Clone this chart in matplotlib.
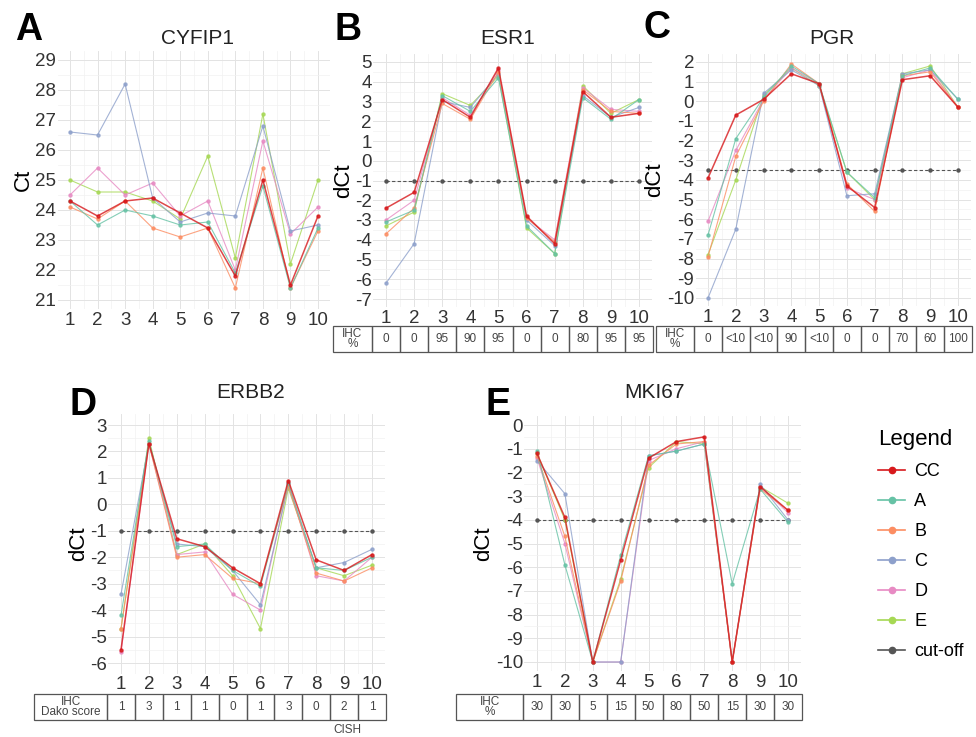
import numpy as np
import matplotlib
matplotlib.use("Agg")
import matplotlib.pyplot as plt
from matplotlib.patches import Rectangle
from matplotlib.lines import Line2D

plt.rcParams['font.family'] = ['Liberation Sans', 'DejaVu Sans']
plt.rcParams['axes.unicode_minus'] = False

# ---- data ----
samples = list(range(1, 11))
series = ['CC', 'A', 'B', 'C', 'D', 'E']
colors = {'CC': '#d7191c', 'A': '#66c2a5', 'B': '#fc8d62', 'C': '#8da0cb',
          'D': '#e78ac3', 'E': '#a6d854', 'cut-off': '#555555'}

cyfip1 = {
    'CC': [24.3, 23.8, 24.3, 24.4, 23.9, 23.4, 21.8, 25.0, 21.5, 23.8],
    'A':  [24.3, 23.5, 24.0, 23.8, 23.5, 23.6, 21.9, 24.8, 21.4, 23.4],
    'B':  [24.1, 23.7, 24.3, 23.4, 23.1, 23.4, 21.4, 25.4, 21.4, 23.3],
    'C':  [26.6, 26.5, 28.2, 24.4, 23.6, 23.9, 23.8, 26.8, 23.3, 23.5],
    'D':  [24.5, 25.4, 24.5, 24.9, 23.8, 24.3, 22.0, 26.3, 23.2, 24.1],
    'E':  [25.0, 24.6, 24.6, 24.3, 23.7, 25.8, 22.4, 27.2, 22.2, 25.0],
}
esr1 = {
    'CC': [-2.4, -1.6, 3.1, 2.2, 4.7, -2.8, -4.2, 3.5, 2.2, 2.4],
    'A':  [-3.1, -2.5, 3.3, 2.5, 4.2, -3.3, -4.7, 3.2, 2.1, 3.1],
    'B':  [-3.7, -2.4, 2.9, 2.1, 4.5, -2.9, -4.1, 3.6, 2.5, 2.4],
    'C':  [-6.2, -4.2, 3.0, 2.7, 4.4, -3.0, -4.3, 3.3, 2.2, 2.7],
    'D':  [-3.0, -2.0, 3.2, 2.3, 4.6, -2.9, -4.0, 3.7, 2.6, 2.5],
    'E':  [-3.3, -2.6, 3.4, 2.8, 4.3, -3.4, -4.7, 3.8, 2.4, 3.1],
}
pgr = {
    'CC': [-3.9, -0.7, 0.1, 1.4, 0.9, -4.3, -5.4, 1.1, 1.3, -0.3],
    'A':  [-6.8, -1.9, 0.2, 1.8, 0.9, -3.6, -4.9, 1.3, 1.7, 0.1],
    'B':  [-7.9, -2.8, 0.0, 1.9, 0.9, -4.2, -5.6, 1.3, 1.5, -0.3],
    'C':  [-10.0, -6.5, 0.4, 1.6, 0.8, -4.8, -4.7, 1.4, 1.6, 0.1],
    'D':  [-6.1, -2.5, 0.1, 1.7, 0.9, -4.4, -5.0, 1.2, 1.6, -0.3],
    'E':  [-7.8, -4.0, 0.3, 1.7, 0.8, -3.6, -5.0, 1.4, 1.8, -0.3],
}
erbb2 = {
    'CC': [-5.5, 2.3, -1.3, -1.6, -2.4, -3.0, 0.9, -2.1, -2.5, -1.9],
    'A':  [-4.2, 2.4, -1.6, -1.5, -2.5, -3.1, 0.8, -2.4, -2.5, -2.0],
    'B':  [-4.7, 2.3, -2.0, -1.9, -2.8, -3.0, 0.7, -2.6, -2.9, -2.4],
    'C':  [-3.4, 2.3, -1.5, -1.6, -2.5, -3.8, 0.7, -2.4, -2.2, -1.7],
    'D':  [-5.6, 2.3, -1.9, -1.8, -3.4, -4.0, 0.8, -2.7, -2.9, -2.0],
    'E':  [-4.7, 2.5, -1.9, -1.5, -2.7, -4.7, 0.6, -2.4, -2.7, -2.3],
}
mki67 = {
    'CC': [-1.2, -3.9, -10.0, -5.7, -1.4, -0.7, -0.5, -10.0, -2.6, -3.6],
    'A':  [-1.1, -5.9, -10.0, -5.5, -1.3, -1.1, -0.8, -6.7, -2.7, -4.1],
    'B':  [-1.3, -4.7, -10.0, -6.6, -1.7, -0.8, -0.7, -10.0, -2.7, -3.6],
    'C':  [-1.5, -2.9, -10.0, -10.0, -1.3, -1.1, -0.8, -10.0, -2.5, -4.0],
    'D':  [-1.4, -5.0, -10.0, -10.0, -1.5, -1.0, -0.7, -10.0, -2.6, -3.7],
    'E':  [-1.2, -4.0, -10.0, -6.5, -1.8, -0.7, -0.8, -10.0, -2.6, -3.3],
}
cutoffs = {'ESR1': -1, 'PGR': -3.5, 'ERBB2': -1, 'MKI67': -4}

ihc_esr1 = ['0', '0', '95', '90', '95', '0', '0', '80', '95', '95']
ihc_pgr = ['0', '<10', '<10', '90', '<10', '0', '0', '70', '60', '100']
ihc_erbb2 = ['1', '3', '1', '1', '0', '1', '3', '0', '2', '1']
ihc_mki67 = ['30', '30', '5', '15', '50', '80', '50', '15', '30', '30']

W, H = 976, 737
fig = plt.figure(figsize=(W / 100, H / 100), dpi=100)


def make_axes(x1px, x10px, ytop, ytop_px, ybot, ybot_px, ypad):
    sx = (x10px - x1px) / 9
    xl, xr = 0.55, 10.45
    left = x1px - (1 - xl) * sx
    right = x10px + (xr - 10) * sx
    sy = (ybot_px - ytop_px) / (ytop - ybot)
    top = ytop_px - ypad * sy
    bottom = ybot_px + ypad * sy
    ax = fig.add_axes([left / W, 1 - bottom / H, (right - left) / W, (bottom - top) / H])
    ax.set_xlim(xl, xr)
    ax.set_ylim(ybot - ypad, ytop + ypad)
    ax.set_xticks(samples)
    ax.set_yticks(np.arange(ybot, ytop + 1))
    ax.set_xticks(np.arange(1.5, 10, 1), minor=True)
    ax.set_yticks(np.arange(ybot + 0.5, ytop, 1), minor=True)
    ax.grid(True, which='major', color='#e3e3e3', lw=0.7)
    ax.grid(True, which='minor', color='#f1f1f1', lw=0.5)
    ax.set_axisbelow(True)
    for s in ax.spines.values():
        s.set_visible(False)
    ax.tick_params(which='both', length=0, labelsize=13.5, labelcolor='#333333')
    ax.tick_params(axis='x', pad=2)
    ax.tick_params(axis='y', pad=1)
    return ax, left, right


def draw_lines(ax, data, cutoff=None):
    if cutoff is not None:
        ax.plot(samples, [cutoff] * 10, ls=(0, (3, 2)), color=colors['cut-off'],
                lw=0.8, marker='o', ms=2.2, zorder=2)
    for name in series[::-1]:
        lw = 1.1 if name == 'CC' else 0.8
        ax.plot(samples, data[name], color=colors[name], lw=lw, marker='o',
                ms=2.2, alpha=0.8, zorder=3)


def draw_table(ax, left, right, label_left_px, top_px, bot_px, label, values):
    tax = fig.add_axes([ax.get_position().x0, 1 - bot_px / H,
                        ax.get_position().width, (bot_px - top_px) / H])
    tax.set_xlim(ax.get_xlim())
    tax.set_ylim(0, 1)
    tax.axis('off')
    sx = (right - left) / (ax.get_xlim()[1] - ax.get_xlim()[0])
    xl = 0.5 - (left + (0.5 - ax.get_xlim()[0]) * sx - label_left_px) / sx
    ec = '#555555'
    tax.add_patch(Rectangle((xl, 0), 0.5 - xl, 1, fill=False, ec=ec, lw=0.9, clip_on=False))
    tax.text((xl + 0.5) / 2, 0.5, label, ha='center', va='center', fontsize=8.5,
             color='#444444', linespacing=0.85)
    for i, v in zip(samples, values):
        tax.add_patch(Rectangle((i - 0.5, 0), 1, 1, fill=False, ec=ec, lw=0.9, clip_on=False))
        tax.text(i, 0.5, v, ha='center', va='center', fontsize=8.5, color='#444444')
    return tax


# A
axA, lA, rA = make_axes(70, 318, 29, 60, 21, 300, 0.3)
draw_lines(axA, cyfip1)
axA.set_ylabel('Ct', fontsize=16, labelpad=1)

# B
axB, lB, rB = make_axes(386, 639, 5, 62, -7, 299, 0.4)
draw_lines(axB, esr1, cutoffs['ESR1'])
axB.set_ylabel('dCt', fontsize=16, labelpad=1)
draw_table(axB, lB, rB, 333, 326, 352, 'IHC\n%', ihc_esr1)

# C
axC, lC, rC = make_axes(708, 958, 2, 62, -10, 298, 0.4)
draw_lines(axC, pgr, cutoffs['PGR'])
axC.set_ylabel('dCt', fontsize=16, labelpad=1)
draw_table(axC, lC, rC, 656, 326, 352, 'IHC\n%', ihc_pgr)

# D
axD, lD, rD = make_axes(121, 372, 3, 425, -6, 663, 0.4)
draw_lines(axD, erbb2, cutoffs['ERBB2'])
axD.set_ylabel('dCt', fontsize=16, labelpad=1)
draw_table(axD, lD, rD, 34, 694, 720, 'IHC\nDako score', ihc_erbb2)
fig.text(347 / W, 1 - 730 / H, 'CISH', fontsize=8.5, color='#444444', ha='center', va='center')

# E
axE, lE, rE = make_axes(537, 788, 0, 425, -10, 662, 0.4)
draw_lines(axE, mki67, cutoffs['MKI67'])
axE.set_ylabel('dCt', fontsize=16, labelpad=1)
draw_table(axE, lE, rE, 456, 694, 720, 'IHC\n%', ihc_mki67)

# titles and panel letters
titles = [('CYFIP1', 197, 38), ('ESR1', 508, 38), ('PGR', 832, 38),
          ('ERBB2', 251, 393), ('MKI67', 655, 392)]
for t, x, y in titles:
    fig.text(x / W, 1 - y / H, t, fontsize=15, ha='center', va='center', color='#222222')
letters = [('A', 29, 30), ('B', 348, 30), ('C', 657, 28), ('D', 83, 405), ('E', 498, 405)]
for t, x, y in letters:
    fig.text(x / W, 1 - y / H, t, fontsize=27, fontweight='bold', ha='center', va='center')

# legend
handles = [Line2D([], [], color=colors[n], lw=1.2, marker='o', ms=4.5)
           for n in series + ['cut-off']]
leg = fig.legend(handles, series + ['cut-off'], loc='upper left',
                 bbox_to_anchor=(862 / W, 1 - 413 / H), frameon=False,
                 title='Legend', fontsize=13, title_fontsize=16,
                 handlelength=1.5, handletextpad=0.5, labelspacing=0.72)
leg._legend_box.align = 'left'

fig.savefig('out.png', dpi=100)
